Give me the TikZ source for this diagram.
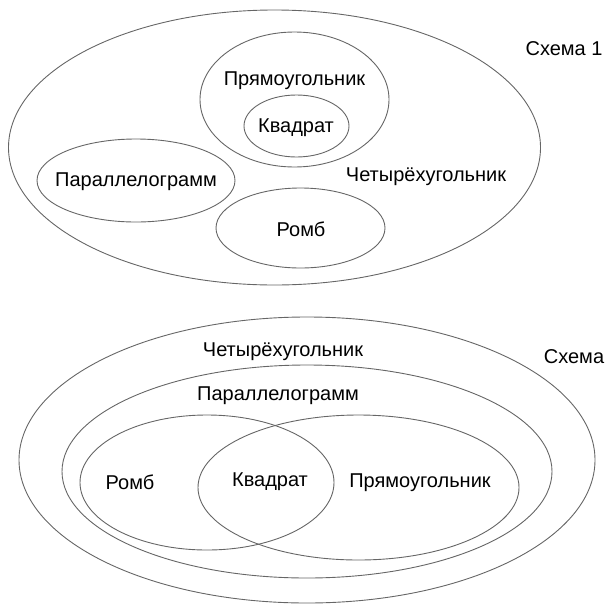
\documentclass[tikz,border=0pt]{standalone}
\usepackage{fontspec}
\setmainfont{Liberation Sans}

\tikzset{
  setline/.style={draw=black!60, line width=0.45pt},
  lbl/.style={font=\fontsize{10}{12}\selectfont, inner sep=0pt}
}

\begin{document}
\begin{tikzpicture}[x=0.5pt,y=-0.5pt]
\useasboundingbox (0,0) rectangle (609,605);

% Схема 1
\draw[setline] (274.5,147.5) ellipse (266 and 137.5);
\draw[setline] (294.5,99.5) ellipse (94.5 and 67.5);
\draw[setline] (296.5,126) ellipse (52.5 and 31);
\draw[setline] (136,180.5) ellipse (99 and 41.5);
\draw[setline] (300.5,228) ellipse (84.5 and 40);
\node[lbl] (pryam1) at (294.5,81) {Прямоугольник};
\node[lbl] (kvadr1) at (296,128) {Квадрат};
\node[lbl] (paral1) at (136,182) {Параллелограмм};
\node[lbl] (chetyr1) at (426,177) {Четырёхугольник};
\node[lbl] (romb1) at (301,229) {Ромб};
\node[lbl] (schema1) at (564,49) {Схема 1};

% Схема 2
\draw[setline] (307,460) ellipse (288 and 143);
\draw[setline] (307,471.5) ellipse (245 and 106.5);
\draw[setline] (207,482.5) ellipse (127 and 67.5);
\draw[setline] (358.5,487.5) ellipse (160.5 and 72.5);
\node[lbl] (chetyr2) at (283,352) {Четырёхугольник};
\node[lbl] (paral2) at (278,396) {Параллелограмм};
\node[lbl] (romb2) at (130,482) {Ромб};
\node[lbl] (kvadr2) at (270,482) {Квадрат};
\node[lbl] (pryam2) at (420,483) {Прямоугольник};
\node[lbl] (schema2) at (574,357) {Схема};
\end{tikzpicture}
\end{document}
